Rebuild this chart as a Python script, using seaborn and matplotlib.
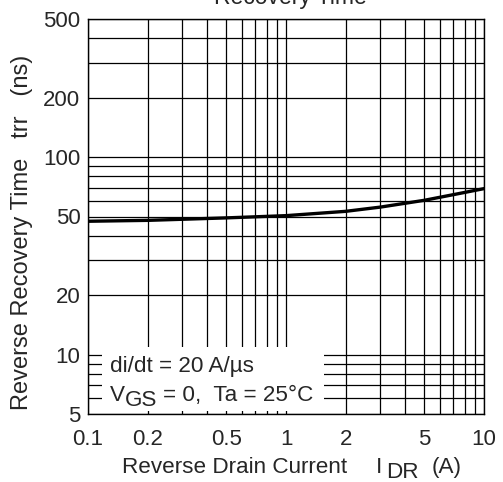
import matplotlib
matplotlib.use("Agg")
import matplotlib.pyplot as plt
import seaborn as sns
import pandas as pd
from matplotlib.patches import Rectangle
from matplotlib.ticker import FixedLocator, NullFormatter, FixedFormatter

# Data
current = [0.1, 0.2, 0.5, 1, 2, 3, 5, 7, 10]
trr = [47.3, 47.8, 49.2, 50.5, 53.1, 55.8, 60.4, 64.5, 69.2]

x_ticks = [0.1, 0.2, 0.5, 1, 2, 5, 10]
x_tick_labels = ["0.1", "0.2", "0.5", "1", "2", "5", "10"]
y_ticks = [5, 10, 20, 50, 100, 200, 500]
y_tick_labels = ["5", "10", "20", "50", "100", "200", "500"]
x_minor = [0.3, 0.4, 0.6, 0.7, 0.8, 0.9, 3, 4, 6, 7, 8, 9]
y_minor = [6, 7, 8, 9, 30, 40, 60, 70, 80, 90, 300, 400]

W, H = 503, 482

sns.set_style("white")
plt.rcParams["font.family"] = ["Liberation Sans", "DejaVu Sans"]

df = pd.DataFrame({"I_DR": current, "trr": trr})

fig = plt.figure(figsize=(W / 100, H / 100), dpi=100)
ax = fig.add_axes([88 / W, 1 - 414 / H, (484 - 88) / W, (414 - 19) / H])


def px(x, y):
    return x / W, 1 - y / H


sns.lineplot(data=df, x="I_DR", y="trr", ax=ax, color="black", linewidth=2.4, zorder=3)

ax.set_xscale("log")
ax.set_yscale("log")
ax.set_xlim(0.1, 10)
ax.set_ylim(5, 500)

ax.xaxis.set_major_locator(FixedLocator(x_ticks))
ax.xaxis.set_major_formatter(FixedFormatter(x_tick_labels))
ax.yaxis.set_major_locator(FixedLocator(y_ticks))
ax.yaxis.set_major_formatter(FixedFormatter(y_tick_labels))
ax.xaxis.set_minor_locator(FixedLocator(x_minor))
ax.yaxis.set_minor_locator(FixedLocator(y_minor))
ax.xaxis.set_minor_formatter(NullFormatter())
ax.yaxis.set_minor_formatter(NullFormatter())

ax.tick_params(which="both", length=0, labelsize=16)
ax.tick_params(axis="x", pad=10.5)
ax.tick_params(axis="y", pad=5.5)

ax.set_axisbelow(True)
ax.grid(True, which="both", color="black", linewidth=0.9)

for s in ax.spines.values():
    s.set_visible(True)
    s.set_color("black")
    s.set_linewidth(1.0)

ax.set_xlabel("")
ax.set_ylabel("")

# x label with same-size lowered subscript
fig.text(*px(122, 473), "Reverse Drain Current", fontsize=16.2, ha="left", va="baseline")
fig.text(*px(376, 473), "I", fontsize=16.2, ha="left", va="baseline")
fig.text(*px(386, 478), "DR", fontsize=16.2, ha="left", va="baseline")
fig.text(*px(432, 473), "(A)", fontsize=16.2, ha="left", va="baseline")

# y label
fig.text(*px(33, 232), "Reverse Recovery Time   trr   (ns)", fontsize=17,
         rotation=90, ha="right", va="center")

# condition box
ax.add_patch(Rectangle((0.035, 0.008), 0.56, 0.162, transform=ax.transAxes,
                       facecolor="white", edgecolor="none", zorder=2))
fig.text(*px(110, 372), "di/dt = 20 A/µs", fontsize=16.2, ha="left", va="baseline")
fig.text(*px(110, 401), "V", fontsize=16.2, ha="left", va="baseline")
fig.text(*px(125, 406), "GS", fontsize=16.2, ha="left", va="baseline")
fig.text(*px(163, 401), "= 0,  Ta = 25°C", fontsize=16.2, ha="left", va="baseline")

# title (partly above the top edge, as in the reference)
fig.text(*px(290, 4), "Recovery Time", ha="center", va="baseline", fontsize=16.5)

fig.savefig("out.png", dpi=100)
